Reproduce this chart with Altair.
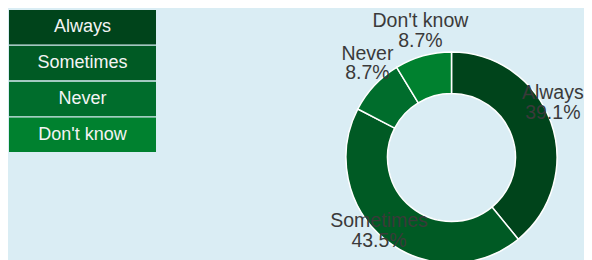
import altair as alt
import pandas as pd

categories = ["Always", "Sometimes", "Never", "Don't know"]
percents = [39.1, 43.5, 8.7, 8.7]
colors = ["#00441b", "#005a24", "#006d2c", "#00812f"]

df = pd.DataFrame({
    "cat": categories,
    "pct": percents,
    "idx": list(range(len(categories))),
})
df["label"] = df["cat"] + "\n" + df["pct"].map(lambda v: f"{v:.1f}%")

color = alt.Color("cat:N", scale=alt.Scale(domain=categories, range=colors), legend=None)

base = alt.Chart(df)

arcs = base.mark_arc(innerRadius=64, outerRadius=105.5, stroke="white", strokeWidth=1.5).encode(
    theta=alt.Theta("pct:Q", stack=True),
    order=alt.Order("idx:Q"),
    color=color,
    x=alt.value(443.5),
    y=alt.value(149.5),
)

label_base = base.transform_window(
    cum="sum(pct)", sort=[alt.SortField("idx")]
).transform_joinaggregate(
    total="sum(pct)"
).transform_calculate(
    mid="(datum.cum - datum.pct / 2) / datum.total"
)

def label_layer(dx, keep):
    return label_base.transform_filter(keep).mark_text(
        radius=115, baseline="alphabetic", align="center", fontSize=19.5,
        lineHeight=19.5, dy=-19.5, dx=dx, font="Liberation Sans",
        color="#3a3a3a", lineBreak="\n").encode(
        theta=alt.Theta("mid:Q", stack=None,
                        scale=alt.Scale(domain=[0, 1], range=[0, 6.283185307179586])),
        text="label:N",
        x=alt.value(443.5),
        y=alt.value(149.5),
    )

labels_main = label_layer(0, "datum.cat != 'Always'")
labels_edge = label_layer(-7, "datum.cat == 'Always'")

yband = alt.Y("cat:N", sort=categories,
              scale=alt.Scale(range=[2, 144], paddingInner=0.035, paddingOuter=0), axis=None)

legend_rects = base.mark_rect().encode(
    x=alt.value(1), x2=alt.value(148),
    y=yband,
    color=color,
)
legend_text = base.mark_text(fontSize=18, font="Liberation Sans", color="#f4f4f4",
                             align="center", baseline="middle").encode(
    x=alt.value(74.5),
    y=yband,
    text="cat:N",
)

chart = alt.layer(arcs, legend_rects, legend_text, labels_main, labels_edge).resolve_scale(
    theta="independent"
).properties(
    width=576, height=252, padding=0,
    autosize=alt.AutoSizeParams(type="none"),
).configure(background="#daedf4").configure_view(stroke=None)

chart.save("out.html", embed_options={"renderer": "svg", "actions": False})
